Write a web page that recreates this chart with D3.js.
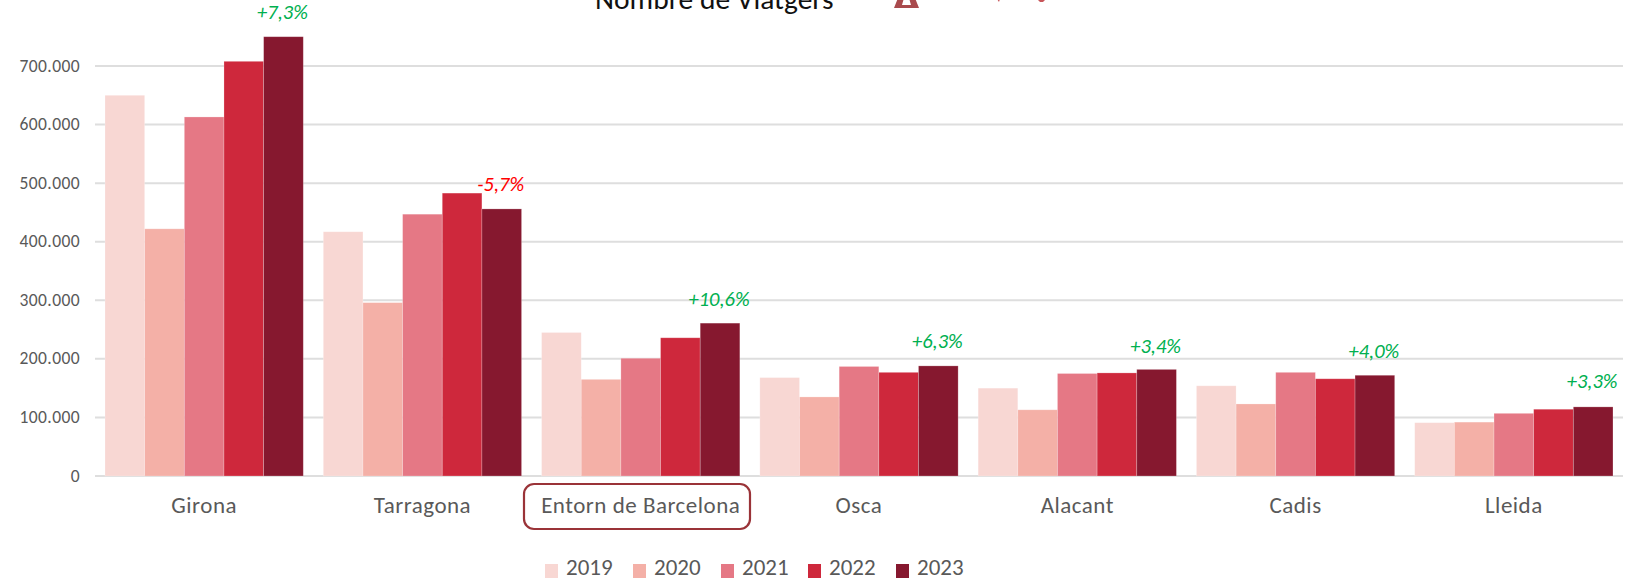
<!DOCTYPE html>
<html><head><meta charset="utf-8">
<style>html,body{margin:0;padding:0;background:#fff;overflow:hidden}svg{display:block}text{font-family:Carlito,Calibri,Lato,"Open Sans",sans-serif}</style>
<script src="https://cdn.jsdelivr.net/npm/d3@7"></script></head><body><svg id="c"></svg>
<script>
const categories=["Girona","Tarragona","Entorn de Barcelona","Osca","Alacant","Cadis","Lleida"];
const years=["2019","2020","2021","2022","2023"];
const colors=["#F8D7D3","#F4B0A7","#E57885","#CE283C","#86182F"];
const v2019=[650000,417000,245000,168000,150000,154000,91000];
const v2020=[422000,296000,165000,135000,113000,123000,92000];
const v2021=[613000,447000,201000,187000,175000,177000,107000];
const v2022=[708000,483000,236000,177000,176000,166000,114000];
const v2023=[750000,456000,261000,188000,182000,172000,118000];
const series=[v2019,v2020,v2021,v2022,v2023];
const changes=["+7,3%","-5,7%","+10,6%","+6,3%","+3,4%","+4,0%","+3,3%"];
const changeGaps=[18,18,17,18,16,17,19];
const yTicks=[0,100000,200000,300000,400000,500000,600000,700000];
const W=1628,H=579;
const svg=d3.select("#c").attr("width",W).attr("height",H);
const y=d3.scaleLinear().domain([0,700000]).range([476,66]);
const x=d3.scaleBand().domain(categories).range([95,1623]).paddingInner(0.0917).paddingOuter(0.0459);
const xi=d3.scaleBand().domain(years).range([0,x.bandwidth()]);
const fmt=d=>d3.format(",")(d).replace(/,/g,".");
svg.append("g").selectAll("line").data(yTicks).join("line")
 .attr("x1",95).attr("x2",1623).attr("y1",d=>y(d)).attr("y2",d=>y(d))
 .attr("stroke","#DEDEDE").attr("stroke-width",2);
svg.append("g").selectAll("text").data(yTicks).join("text")
 .attr("x",80).attr("y",d=>y(d)+5.5).attr("text-anchor","end").attr("font-size",17.5).attr("letter-spacing",0.4).attr("fill","#595959").text(fmt);
series.forEach((s,i)=>{
 svg.append("g").selectAll("rect").data(s).join("rect")
  .attr("x",(d,j)=>x(categories[j])+xi(years[i])).attr("width",xi.bandwidth())
  .attr("y",d=>y(d)).attr("height",d=>y(0)-y(d))
  .attr("fill",colors[i]).attr("stroke","#fff").attr("stroke-opacity",0.3).attr("stroke-width",0.75);
});
svg.append("g").selectAll("text").data(categories).join("text")
 .attr("x",d=>x(d)+x.bandwidth()/2).attr("y",513).attr("text-anchor","middle").attr("font-size",23).attr("letter-spacing",0.5).attr("fill","#595959").text(d=>d);
svg.append("rect").attr("x",524).attr("y",484).attr("width",226).attr("height",45).attr("rx",10).attr("fill","none").attr("stroke","#9A3338").attr("stroke-width",2.2);
svg.append("g").selectAll("text").data(changes).join("text")
 .attr("x",(d,j)=>x(categories[j])+x.bandwidth()-xi.bandwidth()/2-1)
 .attr("y",(d,j)=>y(v2023[j])-changeGaps[j])
 .attr("text-anchor","middle").attr("font-size",20.5).attr("font-style","italic")
 .attr("fill",d=>d[0]=="-"?"#FF0000":"#00B050").text(d=>d);
const legX=[545,633,721,808,896];
years.forEach((yr,i)=>{
 svg.append("rect").attr("x",legX[i]).attr("y",564).attr("width",13).attr("height",14).attr("fill",colors[i]);
 svg.append("text").attr("x",legX[i]+21).attr("y",575).attr("font-size",23).attr("fill","#595959").text(yr);
});
svg.append("text").attr("x",595).attr("y",9).attr("font-size",29.5).attr("fill","#111").text("Nombre de Viatgers");
svg.append("path").attr("d","M894 8L898 -2L915 -2L919 8Z M902 5L911 5L909 -2L904 -2Z").attr("fill-rule","evenodd").attr("fill","#A94A4D");
svg.append("path").attr("d","M997 -1L1000 -1L999 2Z M1037 -1L1046 -1L1043 2L1040 2Z").attr("fill","#C8565A");
</script></body></html>
